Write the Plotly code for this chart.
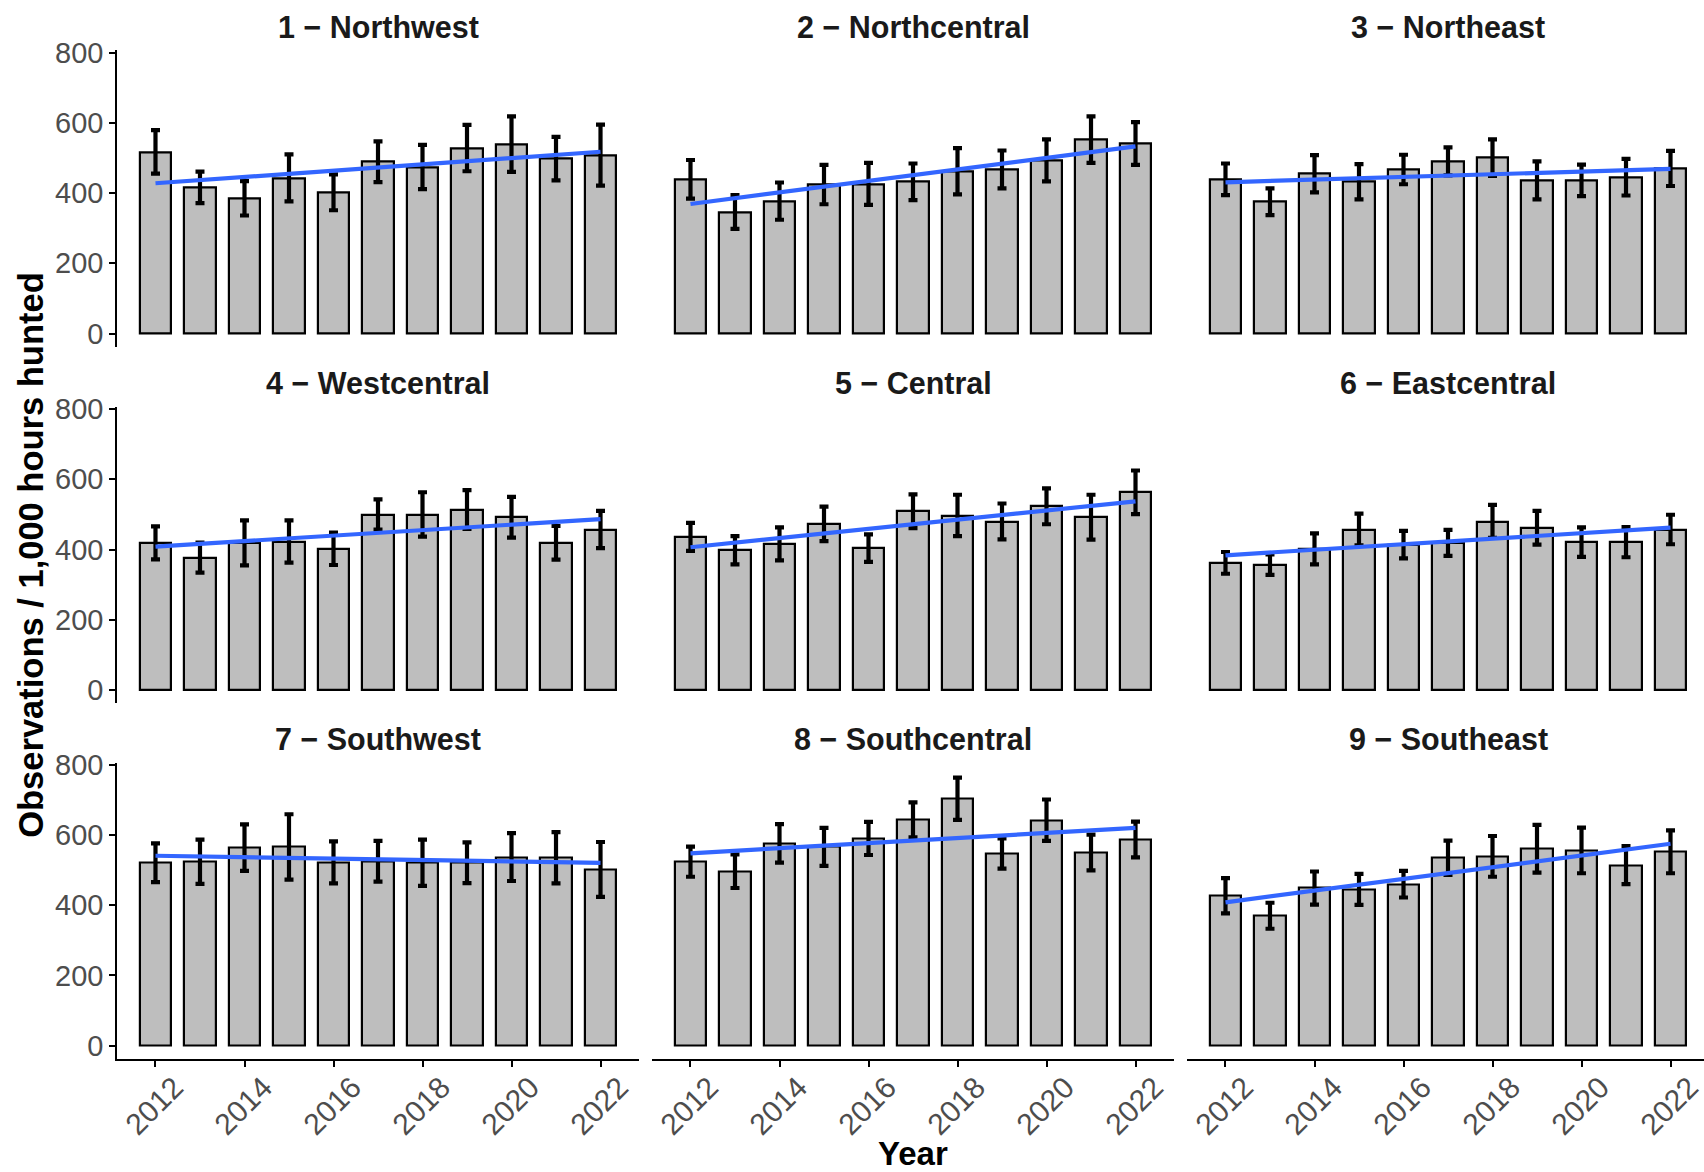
import numpy as np
import plotly.graph_objects as go

# Survey years
years = list(range(2012, 2023))

# Facet labels (one per region)
regions = [
    "1 − Northwest", "2 − Northcentral", "3 − Northeast",
    "4 − Westcentral", "5 − Central", "6 − Eastcentral",
    "7 − Southwest", "8 − Southcentral", "9 − Southeast",
]

# Observations per 1,000 hours hunted, with standard errors, by region
obs_northwest = [517, 416, 385, 443, 402, 489, 474, 528, 539, 498, 508]
se_northwest = [62, 45, 49, 67, 51, 58, 63, 66, 79, 62, 87]

obs_northcentral = [439, 346, 377, 424, 426, 432, 462, 467, 493, 552, 541]
se_northcentral = [55, 48, 53, 56, 60, 52, 66, 54, 60, 66, 61]

obs_northeast = [439, 375, 455, 432, 467, 490, 501, 436, 436, 445, 470]
se_northeast = [45, 38, 53, 50, 42, 40, 52, 54, 45, 52, 50]

obs_westcentral = [419, 377, 419, 423, 402, 500, 500, 514, 492, 419, 457]
se_westcentral = [47, 43, 64, 60, 46, 43, 63, 55, 58, 48, 53]

obs_central = [436, 398, 416, 473, 404, 509, 497, 480, 523, 492, 563]
se_central = [40, 40, 47, 49, 39, 48, 59, 51, 51, 64, 62]

obs_eastcentral = [362, 357, 402, 457, 414, 419, 480, 462, 421, 421, 457]
se_eastcentral = [31, 29, 44, 45, 39, 37, 47, 48, 42, 43, 42]

obs_southwest = [521, 524, 564, 566, 522, 525, 521, 521, 537, 535, 502]
se_southwest = [55, 63, 66, 93, 60, 58, 66, 58, 68, 73, 78]

obs_southcentral = [524, 497, 576, 566, 590, 643, 703, 547, 642, 550, 587]
se_southcentral = [43, 48, 55, 54, 47, 50, 60, 43, 59, 51, 51]

obs_southeast = [427, 370, 449, 445, 460, 535, 539, 561, 556, 514, 552]
se_southeast = [50, 37, 47, 44, 38, 49, 58, 68, 65, 54, 61]

observations = [
    obs_northwest, obs_northcentral, obs_northeast,
    obs_westcentral, obs_central, obs_eastcentral,
    obs_southwest, obs_southcentral, obs_southeast,
]
std_errors = [
    se_northwest, se_northcentral, se_northeast,
    se_westcentral, se_central, se_eastcentral,
    se_southwest, se_southcentral, se_southeast,
]

y_ticks = [0, 200, 400, 600, 800]
x_ticks = [2012, 2014, 2016, 2018, 2020, 2022]

# ---- page geometry (pixels) ----
W, H = 1704, 1172
col_left = [117, 652, 1187]
col_right = [639, 1174, 1704]
row_top = [50.4, 406.9, 762.6]
row_bottom = [346.9, 703.4, 1059.1]
px_per_year = 522 / 11.73
x_lo = 2011.135
y_range = [-38, 806]

FONT = "Liberation Sans, Arial, sans-serif"
TICK_COLOR = "#4D4D4D"

fig = go.Figure()
layout = dict(
    width=W, height=H,
    margin=dict(l=0, r=0, t=0, b=0, pad=0, autoexpand=False),
    paper_bgcolor="white", plot_bgcolor="white",
    showlegend=False,
    bargap=0,
    font=dict(family=FONT, color="black"),
)
annotations = []

for i, (label, vals, errs) in enumerate(zip(regions, observations, std_errors)):
    r, c = divmod(i, 3)
    n = i + 1
    xa = "x" if n == 1 else f"x{n}"
    ya = "y" if n == 1 else f"y{n}"
    xkey = "xaxis" if n == 1 else f"xaxis{n}"
    ykey = "yaxis" if n == 1 else f"yaxis{n}"

    # bars with error bars
    fig.add_trace(go.Bar(
        x=years, y=vals, width=0.7,
        marker=dict(color="#BEBEBE", line=dict(color="black", width=2.2)),
        error_y=dict(type="data", array=errs, color="black", thickness=4.2, width=4.5),
        xaxis=xa, yaxis=ya, hoverinfo="x+y",
    ))

    # linear trend fitted to the yearly values
    slope, intercept = np.polyfit(years, vals, 1)
    trend = [slope * yr + intercept for yr in years]
    fig.add_trace(go.Scatter(
        x=years, y=trend, mode="lines",
        line=dict(color="#3366FF", width=4.2),
        xaxis=xa, yaxis=ya, hoverinfo="skip",
    ))

    x_hi = x_lo + (col_right[c] - col_left[c]) / px_per_year
    bottom_row = r == 2
    left_col = c == 0

    layout[xkey] = dict(
        domain=[col_left[c] / W, col_right[c] / W],
        range=[x_lo, x_hi],
        anchor=ya,
        automargin=False,
        showgrid=False, zeroline=False,
        showline=bottom_row, linecolor="black", linewidth=1.5,
        ticks="outside" if bottom_row else "",
        ticklen=6, tickwidth=1.5, tickcolor="black",
        tickmode="array", tickvals=x_ticks,
        showticklabels=bottom_row,
        tickangle=-45,
        tickfont=dict(size=30, color=TICK_COLOR, family=FONT),
        ticklabelshift=19,
        ticklabelstandoff=-9,
        ticklabeloverflow="allow",
        fixedrange=True,
    )
    layout[ykey] = dict(
        domain=[(H - row_bottom[r]) / H, (H - row_top[r]) / H],
        range=y_range,
        anchor=xa,
        automargin=False,
        showgrid=False, zeroline=False,
        showline=left_col, linecolor="black", linewidth=1.5,
        ticks="outside" if left_col else "",
        ticklen=6, tickwidth=1.5, tickcolor="black",
        tickmode="array", tickvals=y_ticks,
        showticklabels=left_col,
        tickfont=dict(size=29, color=TICK_COLOR, family=FONT),
        ticklabeloverflow="allow",
        fixedrange=True,
    )

    # facet strip title
    panel_w = 522
    annotations.append(dict(
        text=f"<b>{label}</b>",
        x=(col_left[c] + panel_w / 2) / W,
        y=(H - (row_top[r] - 23.5)) / H,
        xref="paper", yref="paper",
        xanchor="center", yanchor="middle",
        showarrow=False,
        font=dict(size=30.5, color="#1A1A1A", family=FONT),
    ))

# axis titles
annotations.append(dict(
    text="<b>Observations / 1,000 hours hunted</b>",
    x=31 / W, y=(H - 554.8) / H,
    xref="paper", yref="paper",
    xanchor="center", yanchor="middle",
    textangle=-90, showarrow=False,
    font=dict(size=34.5, color="black", family=FONT),
))
annotations.append(dict(
    text="<b>Year</b>",
    x=913 / W, y=(H - 1153) / H,
    xref="paper", yref="paper",
    xanchor="center", yanchor="middle",
    borderpad=0,
    showarrow=False,
    font=dict(size=33, color="black", family=FONT),
))

layout["annotations"] = annotations
fig.update_layout(**layout)

fig.write_html("out.html")
